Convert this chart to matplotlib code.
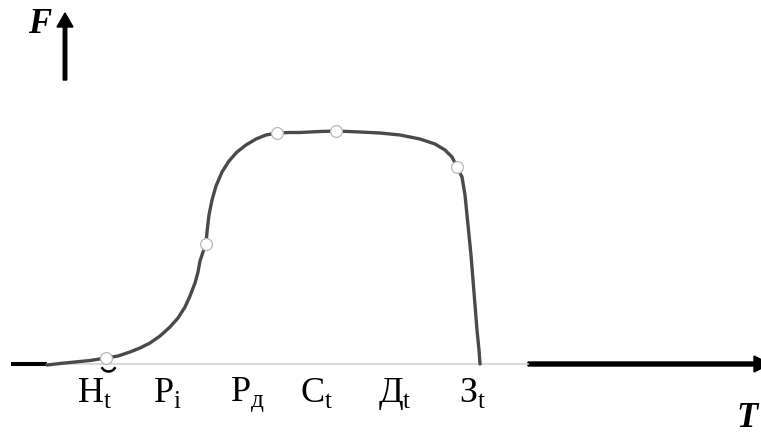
import matplotlib
matplotlib.use("Agg")
import matplotlib.pyplot as plt
from matplotlib.patches import Arc

plt.rcParams['mathtext.fontset'] = 'custom'
plt.rcParams['mathtext.rm'] = 'Liberation Serif'
plt.rcParams['font.family'] = 'Liberation Serif'

# крива F(T) (T -> вправо, F -> вгору від осі)
T = [47, 60, 75, 90, 106, 118, 130, 140, 150, 160, 170, 178, 185, 190, 195,
     198, 200, 203, 206, 207, 209, 212, 216, 222, 229, 237, 246, 256, 266,
     277, 290, 300, 320, 336, 360, 380, 400, 420, 435, 445, 452, 457, 462,
     465, 467, 469, 471, 473, 475, 477, 479, 480]
F = [-1, 0.5, 2, 3.5, 6, 8, 12, 16, 21, 28, 37, 46, 57, 68, 81,
     92, 103, 112, 120, 132, 149, 164, 178, 192, 203, 212, 219, 225, 229,
     231, 231.5, 231.5, 232.5, 233, 232, 231, 229, 225, 220, 214, 207, 197, 187,
     169, 149, 129, 109, 84, 59, 34, 14, 0]

# точки на кривій
pt_T = [106, 206, 277, 336, 457]
pt_F = [6, 120, 231, 233, 197]

# фази під віссю T
phase_T = [77, 153, 230, 300, 378, 459]
phase_main = ['Н', 'Р', 'Р', 'С', 'Д', 'З']
phase_sub = ['t', 'i', 'д', 't', 't', 't']

fig = plt.figure(figsize=(7.61, 4.38), dpi=100)
ax = fig.add_axes([0, 0, 1, 1])
ax.set_xlim(0, 761)
ax.set_ylim(-74, 364)
ax.axis('off')

# вісь T
ax.plot([11, 47], [0, 0], color='black', lw=2.9, solid_capstyle='butt')
ax.plot([47, 528], [0, 0], color='#d6d2d2', lw=1.2)
ax.arrow(528, 0, 242, 0, width=4, head_width=16, head_length=16,
         length_includes_head=True, color='black')

# вісь F
ax.arrow(65, 284, 0, 67, width=3.5, head_width=16, head_length=14,
         length_includes_head=True, color='black')

ax.text(28, 331, 'F', fontsize=25, fontweight='bold', fontstyle='italic',
        ha='left', va='baseline')
ax.text(736, -63, 'T', fontsize=25, fontweight='bold', fontstyle='italic',
        ha='left', va='baseline')

# крива
ax.plot(T, F, color='#4a4a4a', lw=2.4, solid_capstyle='round',
        solid_joinstyle='round', zorder=3)
ax.plot(pt_T, pt_F, 'o', ms=8.5, mfc='white', mec='#b8b8b8', mew=0.9, zorder=4)

# дужка під точкою Н
ax.add_patch(Arc((108.5, 0), 15, 15, theta1=205, theta2=335,
                 color='black', lw=1.8))

for x, m, s in zip(phase_T, phase_main, phase_sub):
    ax.text(x, -38, r'$\mathrm{' + m + '}_{\mathrm{' + s + '}}$', fontsize=26,
            ha='left', va='baseline')

fig.savefig('out.png', dpi=100)
